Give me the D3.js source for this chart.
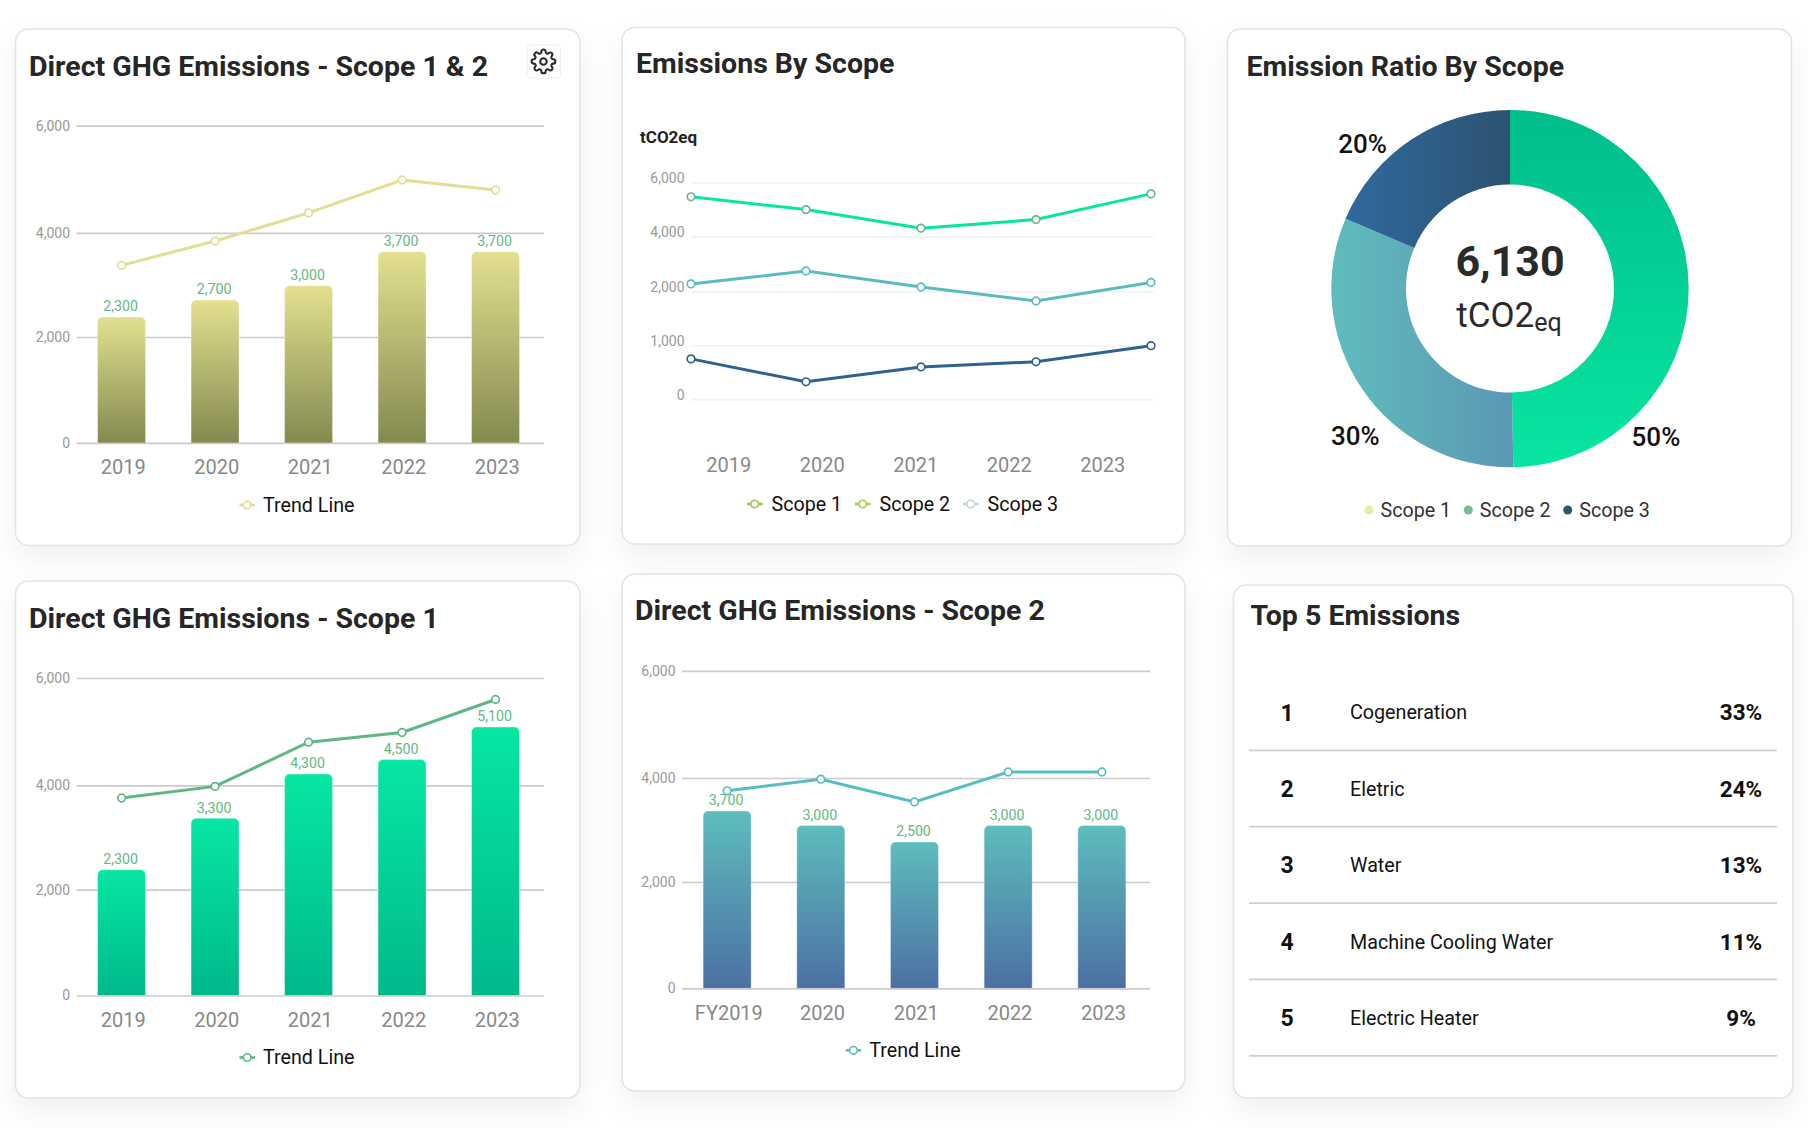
<!DOCTYPE html>
<html>
<head>
<meta charset="utf-8">
<script src="https://cdn.jsdelivr.net/npm/d3@7/dist/d3.min.js"></script>
<style>
html,body{margin:0;padding:0;background:#fff;}
svg{display:block;font-family:Roboto,sans-serif;}
.card{fill:#fff;stroke:#e4e4e4;stroke-width:1.6;filter:drop-shadow(0 12px 14px rgba(0,0,0,.06));}
</style>
</head>
<body>
<svg id="chart" width="1808" height="1128"></svg>
<script>
// ---- data ----
const years = ["2019","2020","2021","2022","2023"];
const yearsFY = ["FY2019","2020","2021","2022","2023"];
const barTicks = [0,2000,4000,6000];
const lineTicks = [0,1000,2000,4000,6000];

const combinedBars = [2384,2711,2986,3637,3637];
const combinedLabels = ["2,300","2,700","3,000","3,700","3,700"];
const combinedTrend = [3376,3844,4373,4987,4800];

const scope1Bars = [2382,3369,4212,4480,5087];
const scope1Labels = ["2,300","3,300","4,300","4,500","5,100"];
const scope1Trend = [3758,3981,4804,4985,5600];

const scope2Bars = [3365,3085,2769,3085,3085];
const scope2Labels = ["3,700","3,000","2,500","3,000","3,000"];
const scope2Trend = [3754,3977,3538,4112,4112];

const lineScope1 = [5473,5002,4317,4634,5580];
const lineScope2 = [2275,2747,2161,1822,2326];
const lineScope3 = [750,325,600,696,994];
const scopeNames = ["Scope 1","Scope 2","Scope 3"];

const donutValues = [49.7,31.7,18.6];
const donutLabels = ["50%","30%","20%"];
const donutTotal = "6,130";

const topRanks = [1,2,3,4,5];
const topNames = ["Cogeneration","Eletric","Water","Machine Cooling Water","Electric Heater"];
const topShares = ["33%","24%","13%","11%","9%"];

// ---- drawing ----
const svg = d3.select("#chart");
const defs = svg.append("defs");

function gradient(id, stops, x1, y1, x2, y2, user){
  const g = defs.append("linearGradient").attr("id",id)
    .attr("x1",x1).attr("y1",y1).attr("x2",x2).attr("y2",y2);
  if(user) g.attr("gradientUnits","userSpaceOnUse");
  stops.forEach((c,i)=>g.append("stop").attr("offset",i/(stops.length-1)).attr("stop-color",c));
}

function card(x0,y0,x1,y1,title,tx,ty){
  svg.append("rect").attr("class","card").attr("x",x0).attr("y",y0)
    .attr("width",x1-x0).attr("height",y1-y0).attr("rx",13);
  svg.append("text").attr("x",tx).attr("y",ty).attr("dy",".35em")
    .attr("font-size",28.5).attr("font-weight",700).attr("fill","#262626").text(title);
}

function roundedTop(x,y,w,base,r){
  const p = d3.path();
  p.moveTo(x,base); p.lineTo(x,y+r);
  p.arcTo(x,y,x+r,y,r); p.lineTo(x+w-r,y);
  p.arcTo(x+w,y,x+w,y+r,r); p.lineTo(x+w,base); p.closePath();
  return p.toString();
}

function legendLine(g,x,y,color,ringColor,label,txtX){
  g.append("line").attr("x1",x).attr("x2",x+15.5).attr("y1",y).attr("y2",y)
    .attr("stroke",color).attr("stroke-width",2.6);
  g.append("circle").attr("cx",x+7.7).attr("cy",y).attr("r",3.8)
    .attr("fill","#fff").attr("stroke",ringColor).attr("stroke-width",1.6);
  g.append("text").attr("x",txtX).attr("y",y).attr("dy",".35em")
    .attr("font-size",19.7).attr("fill","#111").text(label);
}

function barCard(o){
  card(o.box[0],o.box[1],o.box[2],o.box[3],o.title,o.tx,o.ty);
  const y = d3.scaleLinear().domain(barTicks).range(o.gridY);
  const xLabel = d3.scaleBand().domain(o.cats).range([o.px0,o.px1]);
  const x = d3.scaleBand().domain(o.cats).range([o.px0-1.7,o.px1-1.7]).paddingInner(0.487).paddingOuter(0.2435);
  const g = svg.append("g");
  const axisY = g.append("g").attr("transform",`translate(${o.px0},0)`)
    .call(d3.axisLeft(y).tickValues(barTicks).tickFormat(d3.format(",")).tickSizeInner(-(o.px1-o.px0)).tickSizeOuter(0).tickPadding(6.5));
  axisY.select(".domain").remove();
  axisY.selectAll("line").attr("stroke","#cbcbcb").attr("stroke-width",1.7);
  axisY.selectAll("text").attr("font-size",14).attr("fill","#999").attr("font-family","Roboto");
  gradient(o.id,o.grad,0,0,0,1);
  g.selectAll("path.bar").data(o.bars).join("path").attr("class","bar")
    .attr("d",(d,i)=>roundedTop(x(o.cats[i]),y(d),x.bandwidth(),y(0),5))
    .attr("fill",`url(#${o.id})`).attr("stroke","#fff").attr("stroke-opacity",.35);
  g.selectAll("text.val").data(o.labels).join("text").attr("class","val")
    .attr("x",(d,i)=>x(o.cats[i])+x.bandwidth()/2-1).attr("y",(d,i)=>y(o.bars[i])-10.5).attr("dy",".35em")
    .attr("text-anchor","middle").attr("font-size",14.2).attr("fill","#62b97f").text(d=>d);
  const cx = i=>x(o.cats[i])+x.bandwidth()/2;
  const line = d3.line().x((d,i)=>cx(i)).y(d=>y(d));
  g.append("path").datum(o.trend).attr("d",line).attr("fill","none").attr("stroke",o.lineColor).attr("stroke-width",3);
  g.selectAll("circle.pt").data(o.trend).join("circle").attr("class","pt")
    .attr("cx",(d,i)=>cx(i)).attr("cy",d=>y(d)).attr("r",3.8)
    .attr("fill","#fff").attr("stroke",o.lineColor).attr("stroke-width",1.7);
  const axisX = g.append("g").attr("transform",`translate(0,${y(0)})`)
    .call(d3.axisBottom(xLabel).tickSize(0));
  axisX.select(".domain").remove();
  axisX.selectAll("text").attr("y",24.5).attr("dy",".35em").attr("font-size",20).attr("fill","#888").attr("font-family","Roboto");
  legendLine(g,o.legendX,y(0)+62,o.lineColor,o.lineColor,"Trend Line",o.legendX+23.5);
}

barCard({id:"gradA",box:[15.5,29,580,545.5],title:"Direct GHG Emissions - Scope 1 & 2",tx:29,ty:66,
  gridY:[442.9,337,232.9,125.7],px0:76.5,px1:544,cats:years,bars:combinedBars,labels:combinedLabels,trend:combinedTrend,
  grad:["#e3e08f","#83894f"],lineColor:"#e2df94",legendX:239.5});
barCard({id:"gradB",box:[15.5,581,580,1098],title:"Direct GHG Emissions - Scope 1",tx:29,ty:618,
  gridY:[995.5,889.7,785.4,678],px0:76.5,px1:544,cats:years,bars:scope1Bars,labels:scope1Labels,trend:scope1Trend,
  grad:["#07e6a3","#00b98b"],lineColor:"#5fb785",legendX:239.5});
barCard({id:"gradC",box:[622,574,1185,1091],title:"Direct GHG Emissions - Scope 2",tx:635,ty:610.5,
  gridY:[988.3,882,778,670.9],px0:682,px1:1150.4,cats:yearsFY,bars:scope2Bars,labels:scope2Labels,trend:scope2Trend,
  grad:["#5dbdbd","#4c6fa3"],lineColor:"#57bdc0",legendX:845.7});

// gear button
const gear = svg.append("g");
gear.append("rect").attr("x",527).attr("y",45).attr("width",33.5).attr("height",33).attr("rx",4)
  .attr("fill","#fff").attr("stroke","#eeeeee").attr("stroke-width",1.2);
const gi = gear.append("g").attr("transform","translate(530.5,48.5) scale(1.08)").attr("fill","none")
  .attr("stroke","#2a2a2a").attr("stroke-width",1.9).attr("stroke-linejoin","round").attr("stroke-linecap","round");
gi.append("circle").attr("cx",12).attr("cy",12).attr("r",3);
gi.append("path").attr("d","M19.4 15a1.65 1.65 0 0 0 .33 1.82l.06.06a2 2 0 1 1-2.83 2.83l-.06-.06a1.65 1.65 0 0 0-1.82-.33 1.65 1.65 0 0 0-1 1.51V21a2 2 0 0 1-4 0v-.09A1.65 1.65 0 0 0 9 19.4a1.65 1.65 0 0 0-1.82.33l-.06.06a2 2 0 1 1-2.83-2.83l.06-.06A1.65 1.65 0 0 0 4.68 15a1.65 1.65 0 0 0-1.51-1H3a2 2 0 0 1 0-4h.09A1.65 1.65 0 0 0 4.6 9a1.65 1.65 0 0 0-.33-1.82l-.06-.06a2 2 0 1 1 2.83-2.83l.06.06A1.65 1.65 0 0 0 9 4.68a1.65 1.65 0 0 0 1-1.51V3a2 2 0 0 1 4 0v.09a1.65 1.65 0 0 0 1 1.51 1.65 1.65 0 0 0 1.82-.33l.06-.06a2 2 0 1 1 2.83 2.83l-.06.06A1.65 1.65 0 0 0 19.4 9a1.65 1.65 0 0 0 1.51 1H21a2 2 0 0 1 0 4h-.09a1.65 1.65 0 0 0-1.51 1z");

// Emissions by scope
(function(){
  card(622,27.5,1185,544,"Emissions By Scope",636,63.5);
  const g = svg.append("g");
  g.append("text").attr("x",640).attr("y",137.5).attr("dy",".35em").attr("font-size",17).attr("font-weight",700).attr("fill","#222").text("tCO2eq");
  const y = d3.scaleLinear().domain(lineTicks).range([399.3,345.4,291.4,236.8,182.5]);
  const xp = d3.scalePoint().domain(years).range([691,1151]);
  const xl = d3.scaleBand().domain(years).range([682,1149.5]);
  const ax = g.append("g").attr("transform","translate(691.5,0)")
    .call(d3.axisLeft(y).tickValues(lineTicks).tickFormat(d3.format(",")).tickSizeInner(-462).tickSizeOuter(0).tickPadding(7));
  ax.select(".domain").remove();
  ax.selectAll("line").attr("stroke","#f0f0f0").attr("stroke-width",1.5);
  ax.selectAll("text").attr("font-size",14).attr("fill","#999").attr("font-family","Roboto").attr("dy","-.02em");
  const line = d3.line().x((d,i)=>xp(years[i])).y(d=>y(d));
  [[lineScope1,"#06e6a2","#67b987"],[lineScope2,"#5bbcbf","#5bbcbf"],[lineScope3,"#2f6290","#2f6290"]].forEach(([vals,c,ring])=>{
    g.append("path").datum(vals).attr("d",line).attr("fill","none").attr("stroke",c).attr("stroke-width",3);
    g.selectAll(null).data(vals).join("circle").attr("cx",(d,i)=>xp(years[i])).attr("cy",d=>y(d)).attr("r",3.8)
      .attr("fill","#fff").attr("stroke",ring).attr("stroke-width",1.7);
  });
  const axx = g.append("g").attr("transform","translate(0,465)").call(d3.axisBottom(xl).tickSize(0));
  axx.select(".domain").remove();
  axx.selectAll("text").attr("y",0).attr("dy",".35em").attr("font-size",20).attr("fill","#888").attr("font-family","Roboto");
  const lx = d3.scalePoint().domain(scopeNames).range([747,963]);
  const lc = ["#93c83f","#a3d040","#c6d6d2"];
  scopeNames.forEach((n,i)=>legendLine(g,lx(n),504,lc[i],lc[i],n,lx(n)+24.5));
})();

// Donut
(function(){
  card(1227.5,29,1791.5,546,"Emission Ratio By Scope",1246.5,66);
  const g = svg.append("g").attr("transform","translate(1510,288.6)");
  gradient("dA",["#00bd8c","#08e5a2"],0,-178,0,178,true);
  gradient("dB",["#60bcbd","#5a97b3"],-178,0,10,0,true);
  gradient("dC",["#2f6a9e","#2c5270"],-165,0,0,0,true);
  const pie = d3.pie().sort(null).value(d=>d);
  const arc = d3.arc().innerRadius(104).outerRadius(178.7);
  const fills = ["url(#dA)","url(#dB)","url(#dC)"];
  g.selectAll("path").data(pie(donutValues)).join("path").attr("d",arc).attr("fill",(d,i)=>fills[i]);
  // percentage labels float outside the ring at hand-placed bearings
  const labelAngle = [2.363,3.95,5.489];
  const labelRadius = [207.8,214,206.8];
  const labelPos = i=>d3.pointRadial(labelAngle[i],labelRadius[i]);
  g.selectAll("text.pl").data(donutLabels).join("text").attr("class","pl")
    .attr("x",(d,i)=>labelPos(i)[0]).attr("y",(d,i)=>labelPos(i)[1]).attr("dy",".35em")
    .attr("text-anchor","middle").attr("font-size",26).attr("font-weight",500).attr("fill","#111").text(d=>d);
  g.append("text").attr("x",0).attr("y",-28).attr("dy",".35em").attr("text-anchor","middle")
    .attr("font-size",43).attr("font-weight",700).attr("fill","#2a2a2a").text(donutTotal);
  const t = g.append("text").attr("x",-1).attr("y",26.5).attr("dy",".35em").attr("text-anchor","middle")
    .attr("font-size",35).attr("fill","#2a2a2a");
  t.append("tspan").text("tCO2");
  t.append("tspan").attr("font-size",25).attr("dy",4).text("eq");
  const lg = svg.append("g");
  const lx = d3.scalePoint().domain(scopeNames).range([1369,1567.7]);
  const cols = ["#e3efa4","#76bd93","#2a5a68"];
  scopeNames.forEach((n,i)=>{
    lg.append("circle").attr("cx",lx(n)).attr("cy",510).attr("r",4.5).attr("fill",cols[i]);
    lg.append("text").attr("x",lx(n)+11.5).attr("y",510).attr("dy",".35em").attr("font-size",19.7).attr("fill","#333").text(n);
  });
})();

// Table
(function(){
  card(1233.5,585,1793,1098,"Top 5 Emissions",1250.5,615);
  const g = svg.append("g");
  const y = d3.scaleLinear().domain([1,5]).range([712.5,1018]);
  const rows = g.selectAll("g").data(topRanks).join("g");
  rows.append("line").attr("x1",1249).attr("x2",1777)
    .attr("y1",d=>y(d)+37.8).attr("y2",d=>y(d)+37.8).attr("stroke","#cfcfcf").attr("stroke-width",1.7);
  rows.append("text").attr("x",1287).attr("y",d=>y(d)).attr("dy",".35em").attr("text-anchor","middle")
    .attr("font-size",23).attr("font-weight",700).attr("fill","#111").text(d=>d);
  rows.append("text").attr("x",1350).attr("y",d=>y(d)).attr("dy",".35em")
    .attr("font-size",19.7).attr("fill","#111").text((d,i)=>topNames[i]);
  rows.append("text").attr("x",1741).attr("y",d=>y(d)).attr("dy",".35em").attr("text-anchor","middle")
    .attr("font-size",22.5).attr("font-weight",700).attr("fill","#111").text((d,i)=>topShares[i]);
})();
</script>
</body>
</html>
